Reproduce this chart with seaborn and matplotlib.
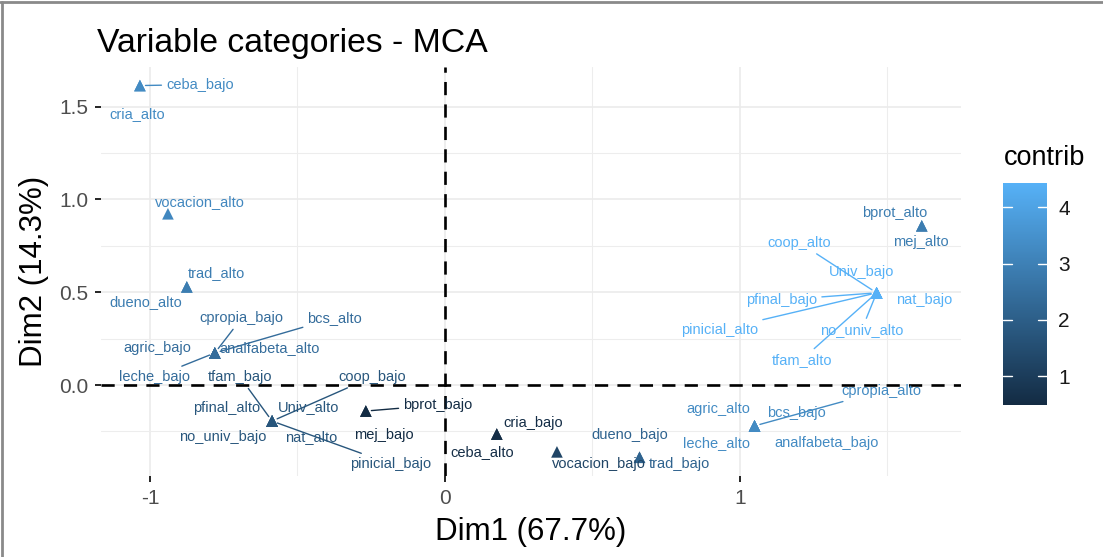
import numpy as np
import pandas as pd
import matplotlib
matplotlib.use("Agg")
import matplotlib.pyplot as plt
import seaborn as sns
from matplotlib.colors import LinearSegmentedColormap, Normalize
from matplotlib.cm import ScalarMappable
from matplotlib.lines import Line2D

# ---------------- data ----------------
categories = [
    "ceba_bajo", "cria_alto", "vocacion_alto", "trad_alto", "dueno_alto",
    "cpropia_bajo", "bcs_alto", "agric_bajo", "analfabeta_alto", "leche_bajo",
    "tfam_bajo", "coop_bajo", "pfinal_alto", "Univ_alto", "no_univ_bajo", "nat_alto", "pinicial_bajo",
    "bprot_bajo", "mej_bajo",
    "cria_bajo", "ceba_alto", "vocacion_bajo", "dueno_bajo", "trad_bajo",
    "cpropia_alto", "agric_alto", "bcs_bajo", "leche_alto", "analfabeta_bajo",
    "coop_alto", "Univ_bajo", "pfinal_bajo", "nat_bajo", "pinicial_alto", "no_univ_alto", "tfam_alto",
    "bprot_alto", "mej_alto",
]
dim1 = [
    -1.034, -1.034, -0.939, -0.875, -0.875,
    -0.780, -0.780, -0.780, -0.780, -0.780,
    -0.586, -0.586, -0.586, -0.586, -0.586, -0.586, -0.586,
    -0.268, -0.268,
    0.176, 0.176, 0.380, 0.660, 0.660,
    1.050, 1.050, 1.050, 1.050, 1.050,
    1.464, 1.464, 1.464, 1.464, 1.464, 1.464, 1.464,
    1.617, 1.617,
]
dim2 = [
    1.614, 1.614, 0.923, 0.529, 0.529,
    0.173, 0.173, 0.173, 0.173, 0.173,
    -0.194, -0.194, -0.194, -0.194, -0.194, -0.194, -0.194,
    -0.140, -0.140,
    -0.264, -0.264, -0.360, -0.389, -0.389,
    -0.220, -0.220, -0.220, -0.220, -0.220,
    0.497, 0.497, 0.497, 0.497, 0.497, 0.497, 0.497,
    0.858, 0.858,
]
contrib = [
    3.3, 3.3, 3.2, 2.9, 2.9,
    2.4, 2.4, 2.4, 2.4, 2.4,
    1.75, 1.75, 1.75, 1.75, 1.75, 1.75, 1.75,
    0.52, 0.52,
    0.56, 0.56, 1.25, 2.15, 2.15,
    3.3, 3.3, 3.3, 3.3, 3.3,
    4.43, 4.43, 4.43, 4.43, 4.43, 4.43, 4.43,
    2.9, 2.9,
]
x_ticks = [-1, 0, 1]
x_tick_labels = ["-1", "0", "1"]
y_ticks = [0.0, 0.5, 1.0, 1.5]
y_tick_labels = ["0.0", "0.5", "1.0", "1.5"]
colorbar_ticks = [1, 2, 3, 4]

df = pd.DataFrame({"name": categories, "Dim1": dim1, "Dim2": dim2, "contrib": contrib})

# ---------------- label layout (offsets in pixels, repel-like) ----------------
label_offsets = {
    "ceba_bajo": (60, 1), "cria_alto": (-3, -28), "vocacion_alto": (32, 12),
    "trad_alto": (30, 14), "dueno_alto": (-41, -15),
    "cpropia_bajo": (27, 35), "bcs_alto": (120, 35), "agric_bajo": (-58, 5),
    "analfabeta_alto": (55, 5), "leche_bajo": (-60, -24),
    "tfam_bajo": (-32, 44), "coop_bajo": (100, 44), "pfinal_alto": (-45, 13),
    "Univ_alto": (37, 14), "no_univ_bajo": (-49, -16), "nat_alto": (39, -16),
    "pinicial_bajo": (119, -43),
    "bprot_bajo": (72, 6), "mej_bajo": (18, -24),
    "cria_bajo": (36, 11), "ceba_alto": (-15, -18), "vocacion_bajo": (42, -12),
    "dueno_bajo": (-10, 22), "trad_bajo": (40, -7),
    "cpropia_alto": (127, 35), "agric_alto": (-36, 17), "bcs_bajo": (42, 13),
    "leche_alto": (-38, -17), "analfabeta_bajo": (72, -17),
    "coop_alto": (-77, 50), "Univ_bajo": (-15, 21), "pfinal_bajo": (-95, -7),
    "nat_bajo": (48, -7), "pinicial_alto": (-157, -37), "no_univ_alto": (-15, -37),
    "tfam_alto": (-75, -67),
    "bprot_alto": (-27, 13), "mej_alto": (-1, -16),
}
with_segment = {"ceba_bajo", "cpropia_bajo", "bcs_alto", "leche_bajo", "tfam_bajo",
                "coop_bajo", "pinicial_bajo", "bprot_bajo", "cpropia_alto", "coop_alto",
                "pfinal_bajo", "pinicial_alto", "no_univ_alto", "tfam_alto"}

# ---------------- style ----------------
sns.set_theme(style="white")
plt.rcParams["font.family"] = ["Liberation Sans", "DejaVu Sans"]
plt.rcParams["axes.unicode_minus"] = False

cmap = LinearSegmentedColormap.from_list("gg", ["#132B43", "#56B1F7"])
norm = Normalize(vmin=min(contrib) - 0.03, vmax=max(contrib))

W, H = 1103, 557
fig = plt.figure(figsize=(W / 100, H / 100), dpi=100)
fig.patch.set_facecolor("white")
ax = fig.add_axes([100.7 / W, 1 - 476 / H, (961 - 100.7) / W, (476 - 67) / H])
ax.set_facecolor("white")

ax.set_xlim(-1.167, 1.75)
ax.set_ylim(-0.49, 1.714)

# grid
ax.set_xticks(x_ticks)
ax.set_xticklabels(x_tick_labels)
ax.set_yticks(y_ticks)
ax.set_yticklabels(y_tick_labels)
ax.set_xticks([-0.5, 0.5, 1.5], minor=True)
ax.set_yticks([-0.25, 0.25, 0.75, 1.25], minor=True)
ax.grid(True, which="major", color="#EBEBEB", linewidth=1.2)
ax.grid(True, which="minor", color="#EDEDED", linewidth=0.8)
ax.set_axisbelow(True)
for s in ax.spines.values():
    s.set_visible(False)
ax.tick_params(axis="both", which="major", length=4, width=1.2, color="black",
               labelsize=15, labelcolor="#4D4D4D", pad=5, direction="out",
               bottom=True, left=True)
ax.tick_params(axis="both", which="minor", length=0)

# reference lines
ax.axhline(0, color="black", linestyle=(0, (5, 3.5)), linewidth=1.9, zorder=1)
ax.axvline(0, color="black", linestyle=(0, (5, 3.5)), linewidth=1.9, zorder=1)

# points
sns.scatterplot(data=df, x="Dim1", y="Dim2", hue="contrib", palette=cmap, hue_norm=norm,
                marker="^", s=70, linewidth=0, legend=False, ax=ax, zorder=3)

# labels
for _, r in df.iterrows():
    col = cmap(norm(r["contrib"]))
    dx, dy = label_offsets[r["name"]]
    kw = {}
    if r["name"] in with_segment:
        kw["arrowprops"] = dict(arrowstyle="-", color=col, lw=1.0, shrinkA=1, shrinkB=4)
    ax.annotate(r["name"], xy=(r["Dim1"], r["Dim2"]), xytext=(dx, dy),
                textcoords="offset pixels", ha="center", va="center",
                fontsize=10.5, color=col, zorder=4, **kw)

ax.set_xlabel("Dim1 (67.7%)", fontsize=22.5, color="black", labelpad=7)
ax.set_ylabel("Dim2 (14.3%)", fontsize=22.5, color="black", labelpad=7)

fig.text(97 / W, 1 - 52 / H, "Variable categories - MCA", fontsize=24.3,
         ha="left", va="baseline", color="black")

# colorbar
cax = fig.add_axes([1003 / W, 1 - 405 / H, 44 / W, 222 / H])
sm = ScalarMappable(norm=norm, cmap=cmap)
cb = fig.colorbar(sm, cax=cax, ticks=colorbar_ticks)
cb.outline.set_visible(False)
cax.tick_params(length=0, labelsize=15, labelcolor="#1A1A1A", pad=8)
for t in colorbar_ticks:
    cax.plot([0, 0.2], [t, t], transform=cax.get_yaxis_transform(), color="white", lw=1.0)
    cax.plot([0.8, 1.0], [t, t], transform=cax.get_yaxis_transform(), color="white", lw=1.0)
fig.text(1004 / W, 1 - 158 / H, "contrib", fontsize=19.5, ha="left", va="center", color="black")

# outer frame (left and top)
fig.add_artist(Line2D([1.5 / W, 1.5 / W], [0, 1 - 1.5 / H], transform=fig.transFigure,
                      color="#8A8A8A", lw=2))
fig.add_artist(Line2D([0, 1], [1 - 1.5 / H, 1 - 1.5 / H], transform=fig.transFigure,
                      color="#8A8A8A", lw=2))

fig.savefig("out.png", dpi=100, facecolor="white")
